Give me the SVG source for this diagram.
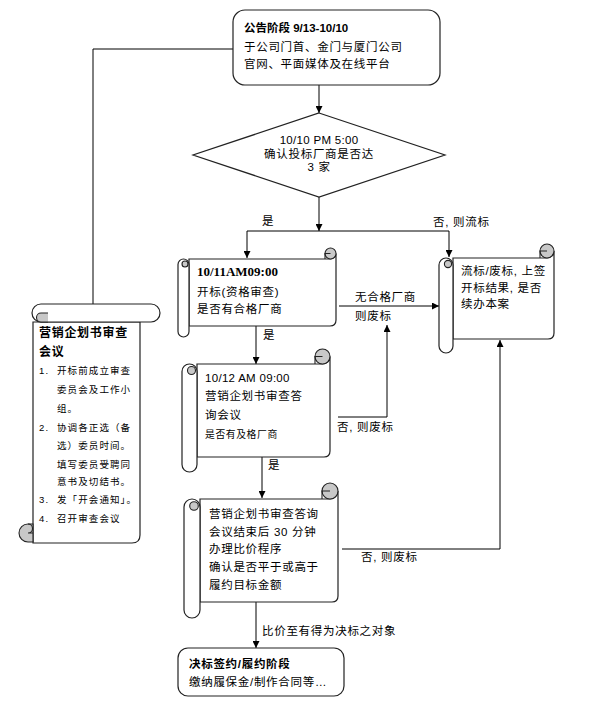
<svg xmlns="http://www.w3.org/2000/svg" width="589" height="716" viewBox="0 0 589 716">
<defs>
<marker id="ah" viewBox="0 0 10 10" refX="10" refY="5" markerWidth="8" markerHeight="7" orient="auto" markerUnits="userSpaceOnUse"><path d="M0,0 L10,5 L0,10 z" fill="#000"/></marker>
<style>
.sh{fill:#fff;stroke:#222;stroke-width:1.2}
.curl{fill:#c8c8c8;stroke:#222;stroke-width:1.1}
.ln{fill:none;stroke:#000;stroke-width:1}
.tk{fill:none;stroke:#222;stroke-width:1.1}
.t{font-family:"Liberation Sans","Noto Sans CJK SC",sans-serif;font-size:11.5px;letter-spacing:0.7px;fill:#000}
.b{font-weight:bold}
.s{font-size:9.5px;letter-spacing:1.1px}
.sm{font-size:9.8px;letter-spacing:0.6px}
.ser{font-family:"Liberation Serif","Noto Sans CJK SC",serif;font-size:13px;font-weight:bold;letter-spacing:0}
.c{text-anchor:middle}
</style>
</defs>
<rect width="589" height="716" fill="#fff"/>

<g id="connectors">
<path class="ln" d="M93,304 V49 H233"/>
<path class="ln" d="M319,85 V113" marker-end="url(#ah)"/>
<path class="ln" d="M319,197 V231" marker-end="url(#ah)"/>
<path class="ln" d="M247,231 H449"/>
<path class="ln" d="M247,231 V258" marker-end="url(#ah)"/>
<path class="ln" d="M449,231 V257" marker-end="url(#ah)"/>
<path class="ln" d="M256,326 V364" marker-end="url(#ah)"/>
<path class="ln" d="M339,306 H439" marker-end="url(#ah)"/>
<path class="ln" d="M338,417 H387 V325" marker-end="url(#ah)"/>
<path class="ln" d="M262,457 V498" marker-end="url(#ah)"/>
<path class="ln" d="M342,549 H500 V340" marker-end="url(#ah)"/>
<path class="ln" d="M256,602 V648" marker-end="url(#ah)"/>
<text class="t" x="262" y="225">是</text>
<text class="t" x="433" y="226">否, 则流标</text>
<text class="t" x="263" y="339">是</text>
<text class="t" x="355" y="301">无合格厂商</text>
<text class="t" x="355" y="320">则废标</text>
<text class="t" x="337" y="431">否, 则废标</text>
<text class="t" x="268" y="469">是</text>
<text class="t" x="361" y="561">否, 则废标</text>
<text class="t" x="262" y="635">比价至有得为决标之对象</text>
</g>

<g id="announce">
<rect class="sh" x="233" y="10" width="207" height="75" rx="12"/>
<text class="t b" x="244" y="32" style="letter-spacing:0">公告阶段 9/13-10/10</text>
<text class="t" x="244" y="51">于公司门首、金门与厦门公司</text>
<text class="t" x="244" y="68">官网、平面媒体及在线平台</text>
</g>

<g id="decision">
<polygon class="sh" points="319,113 445,155 319,197 193,155"/>
<text class="t c" x="319" y="144" style="letter-spacing:0.3px">10/10 PM 5:00</text>
<text class="t c" x="319" y="158">确认投标厂商是否达</text>
<text class="t c" x="319" y="171">3 家</text>
</g>

<g id="review-meeting">
<path class="sh" d="M33,322 H140 V535 Q140,543 132,543 H33 Z"/>
<rect class="sh" x="32" y="304" width="128" height="18" rx="9"/>
<path class="curl" d="M48,313 H41 A4.5,4.5 0 0 0 41,322 H48"/>
<path class="curl" d="M33,524 H28 A9,9 0 0 0 28,542 H33 Z"/>
<path class="tk" d="M28,524 A4.5,4.5 0 0 1 28,533 H33"/>
<text class="t b" x="39" y="337" style="font-size:12px">营销企划书审查</text>
<text class="t b" x="39" y="356" style="font-size:12px">会议</text>
<text class="t s" x="39" y="374">1.</text><text class="t s" x="57" y="374">开标前成立审查</text>
<text class="t s" x="57" y="393">委员会及工作小</text>
<text class="t s" x="57" y="412">组。</text>
<text class="t s" x="39" y="431">2.</text><text class="t s" x="57" y="431">协调各正选（备</text>
<text class="t s" x="57" y="449">选）委员时间。</text>
<text class="t s" x="57" y="468">填写委员受聘同</text>
<text class="t s" x="57" y="485">意书及切结书。</text>
<text class="t s" x="39" y="503">3.</text><text class="t s" x="57" y="503">发「开会通知」。</text>
<text class="t s" x="39" y="522">4.</text><text class="t s" x="57" y="522">召开审查会议</text>
</g>

<g id="bid-open">
<path class="sh" d="M189,259 H330.5 A5.5,5.5 0 0 0 336,253.5 V320 Q336,326 330,326 H189 Z"/>
<circle class="curl" cx="330.5" cy="253.5" r="5.5"/>
<path class="tk" d="M325,259 V253.5 H330.5"/>
<rect class="sh" x="178" y="259" width="11" height="78" rx="5.5"/>
<circle class="curl" cx="185" cy="264" r="3"/>
<text class="ser" x="197" y="276">10/11AM09:00</text>
<text class="t" x="197" y="296">开标(资格审查)</text>
<text class="t" x="197" y="313">是否有合格厂商</text>
</g>

<g id="fail-bid">
<path class="sh" d="M453,258 H547 A7,7 0 0 0 554,251 V333 Q554,339 548,339 H453 Z"/>
<circle class="curl" cx="547" cy="251" r="7"/>
<path class="tk" d="M540,258 V251 H547"/>
<rect class="sh" x="439" y="258" width="14" height="95" rx="7"/>
<circle class="curl" cx="448" cy="264" r="3.6"/>
<text class="t" x="461" y="275">流标/废标, 上签</text>
<text class="t" x="461" y="292">开标结果, 是否</text>
<text class="t" x="461" y="308">续办本案</text>
</g>

<g id="inquiry">
<path class="sh" d="M197,364 H322.5 A7.5,7.5 0 0 0 330,356.5 V451 Q330,457 324,457 H197 Z"/>
<circle class="curl" cx="322.5" cy="356.5" r="7.5"/>
<path class="tk" d="M315,364 V356.5 H322.5"/>
<rect class="sh" x="182" y="364" width="15" height="108" rx="7.5"/>
<circle class="curl" cx="191.5" cy="370.5" r="4"/>
<text class="t" x="205" y="382" style="letter-spacing:0.3px">10/12 AM 09:00</text>
<text class="t" x="205" y="400">营销企划书审查答</text>
<text class="t" x="205" y="419">询会议</text>
<text class="t sm" x="205" y="438">是否有及格厂商</text>
</g>

<g id="price-compare">
<path class="sh" d="M200,499 H330 A8,8 0 0 0 338,491 V596 Q338,602 332,602 H200 Z"/>
<circle class="curl" cx="330" cy="491" r="8"/>
<path class="tk" d="M322,499 V491 H330"/>
<rect class="sh" x="184" y="499" width="16" height="119" rx="8"/>
<circle class="curl" cx="194" cy="506" r="4.3"/>
<text class="t" x="209" y="518">营销企划书审查答询</text>
<text class="t" x="209" y="536">会议结束后 30 分钟</text>
<text class="t" x="209" y="553">办理比价程序</text>
<text class="t" x="209" y="571">确认是否平于或高于</text>
<text class="t" x="209" y="589">履约目标金额</text>
</g>

<g id="award">
<rect class="sh" x="178" y="648" width="166" height="48" rx="10"/>
<text class="t b" x="189" y="668">决标签约/履约阶段</text>
<text class="t" x="189" y="686">缴纳履保金/制作合同等…</text>
</g>
</svg>
